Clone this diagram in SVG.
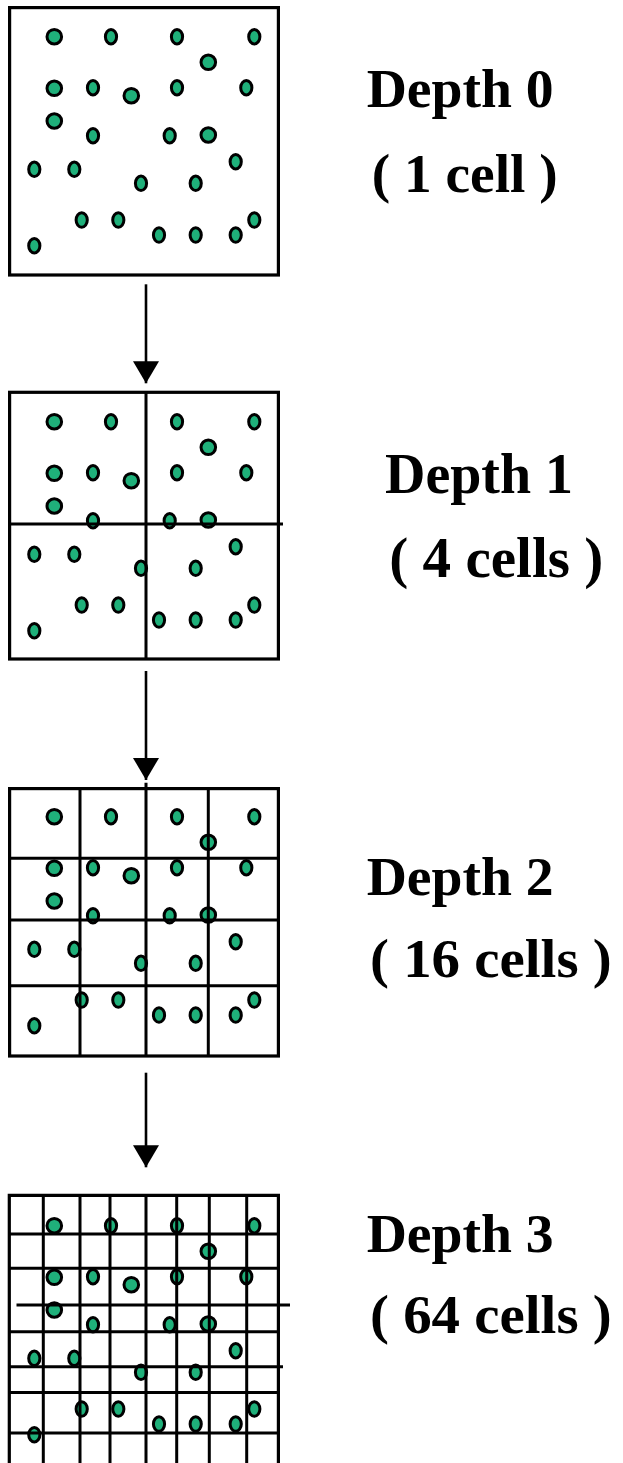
<svg xmlns="http://www.w3.org/2000/svg" xmlns:xlink="http://www.w3.org/1999/xlink" width="623" height="1463" viewBox="0 0 623 1463">
<style>
.c{fill:#1fb07a;stroke:#000;stroke-width:3}
.g{fill:none;stroke:#000;stroke-width:3}
.b{fill:none;stroke:#000;stroke-width:3.2}
.t{font-family:"Liberation Serif","Times New Roman",serif;font-weight:bold;font-size:54px;fill:#000}
.a{stroke:#000;stroke-width:2.6;fill:none}
</style>
<defs>
<marker id="ah" markerUnits="userSpaceOnUse" markerWidth="22" markerHeight="26" viewBox="0 0 22 26" refX="22" refY="13" orient="auto">
<path d="M0,0 L22,13 L0,26 Z" fill="#000"/>
</marker>
<g id="dots">
<circle class="c" cx="54.3" cy="36.7" r="7.3"/>
<ellipse class="c" cx="111" cy="36.7" rx="5.6" ry="7.2"/>
<ellipse class="c" cx="177" cy="36.7" rx="5.6" ry="7.2"/>
<ellipse class="c" cx="254.3" cy="36.7" rx="5.6" ry="7.2"/>
<circle class="c" cx="208.3" cy="62.3" r="7.3"/>
<circle class="c" cx="54.3" cy="88.3" r="7.3"/>
<ellipse class="c" cx="93" cy="87.7" rx="5.6" ry="7.2"/>
<circle class="c" cx="131.3" cy="95.7" r="7.3"/>
<ellipse class="c" cx="177" cy="87.7" rx="5.6" ry="7.2"/>
<ellipse class="c" cx="246.3" cy="87.7" rx="5.6" ry="7.2"/>
<circle class="c" cx="54.3" cy="121" r="7.3"/>
<ellipse class="c" cx="93" cy="135.7" rx="5.6" ry="7.2"/>
<ellipse class="c" cx="169.7" cy="135.7" rx="5.6" ry="7.2"/>
<circle class="c" cx="208.3" cy="135" r="7.3"/>
<ellipse class="c" cx="235.7" cy="161.7" rx="5.6" ry="7.2"/>
<ellipse class="c" cx="34.3" cy="169.3" rx="5.6" ry="7.2"/>
<ellipse class="c" cx="74.3" cy="169.3" rx="5.6" ry="7.2"/>
<ellipse class="c" cx="141" cy="183.3" rx="5.6" ry="7.2"/>
<ellipse class="c" cx="195.7" cy="183.3" rx="5.6" ry="7.2"/>
<ellipse class="c" cx="81.7" cy="220" rx="5.6" ry="7.2"/>
<ellipse class="c" cx="118.3" cy="220" rx="5.6" ry="7.2"/>
<ellipse class="c" cx="254.3" cy="220" rx="5.6" ry="7.2"/>
<ellipse class="c" cx="159" cy="235" rx="5.6" ry="7.2"/>
<ellipse class="c" cx="195.7" cy="235" rx="5.6" ry="7.2"/>
<ellipse class="c" cx="235.7" cy="235" rx="5.6" ry="7.2"/>
<ellipse class="c" cx="34.3" cy="245.7" rx="5.6" ry="7.2"/>
</g>
</defs>
<rect width="623" height="1463" fill="#fff"/>

<g id="depth0">
<use xlink:href="#dots"/>
<rect class="b" x="9.6" y="7.6" width="268.8" height="267.4"/>
<text class="t" x="366.7" y="106.7" textLength="187" lengthAdjust="spacingAndGlyphs">Depth 0</text>
<text class="t" x="371.7" y="191.7" textLength="186" lengthAdjust="spacingAndGlyphs">( 1 cell )</text>
</g>

<g id="depth1">
<use xlink:href="#dots" transform="translate(0,385)"/>
<rect class="b" x="9.6" y="392.3" width="268.8" height="266.7"/>
<line class="g" x1="146" y1="392" x2="146" y2="659"/>
<line class="g" x1="9.6" y1="524" x2="283" y2="524"/>
<text class="t" x="385" y="493.3" textLength="188" lengthAdjust="spacingAndGlyphs" style="font-size:56px">Depth 1</text>
<text class="t" x="389.3" y="576.7" textLength="214" lengthAdjust="spacingAndGlyphs" style="font-size:56px">( 4 cells )</text>
</g>

<g id="depth2">
<use xlink:href="#dots" transform="translate(0,780)"/>
<rect class="b" x="9.6" y="788.6" width="268.8" height="267.4"/>
<line class="g" x1="80" y1="788.6" x2="80" y2="1056"/>
<line class="g" x1="146" y1="782.7" x2="146" y2="1056"/>
<line class="g" x1="208.3" y1="788.6" x2="208.3" y2="1056"/>
<line class="g" x1="9.6" y1="858.3" x2="278.4" y2="858.3"/>
<line class="g" x1="9.6" y1="920" x2="278.4" y2="920"/>
<line class="g" x1="9.6" y1="985.7" x2="278.4" y2="985.7"/>
<text class="t" x="366.7" y="895" textLength="187" lengthAdjust="spacingAndGlyphs">Depth 2</text>
<text class="t" x="370" y="976.7" textLength="241.7" lengthAdjust="spacingAndGlyphs">( 16 cells )</text>
</g>

<g id="depth3">
<use xlink:href="#dots" transform="translate(0,1189)"/>
<path class="b" d="M9.3,1463 V1195.3 H278.4 V1463"/>
<line class="g" x1="43.3" y1="1195" x2="43.3" y2="1463"/>
<line class="g" x1="80" y1="1195" x2="80" y2="1463"/>
<line class="g" x1="110" y1="1195" x2="110" y2="1463"/>
<line class="g" x1="146" y1="1195" x2="146" y2="1463"/>
<line class="g" x1="176.7" y1="1195" x2="176.7" y2="1463"/>
<line class="g" x1="209.3" y1="1195" x2="209.3" y2="1463"/>
<line class="g" x1="246.7" y1="1195" x2="246.7" y2="1463"/>
<line class="g" x1="9.3" y1="1234" x2="278.4" y2="1234"/>
<line class="g" x1="9.3" y1="1268.3" x2="278.4" y2="1268.3"/>
<line class="g" x1="16.5" y1="1305" x2="290" y2="1305"/>
<line class="g" x1="9.3" y1="1331.7" x2="278.4" y2="1331.7"/>
<line class="g" x1="9.3" y1="1366.7" x2="283" y2="1366.7"/>
<line class="g" x1="9.3" y1="1392.5" x2="278.4" y2="1392.5"/>
<line class="g" x1="9.3" y1="1433" x2="278.4" y2="1433"/>
<text class="t" x="366.7" y="1251.7" textLength="187" lengthAdjust="spacingAndGlyphs">Depth 3</text>
<text class="t" x="370" y="1332.7" textLength="241.7" lengthAdjust="spacingAndGlyphs">( 64 cells )</text>
</g>

<g id="connectors">
<line class="a" x1="146" y1="284.3" x2="146" y2="383.3" marker-end="url(#ah)"/>
<line class="a" x1="146" y1="671" x2="146" y2="780" marker-end="url(#ah)"/>
<line class="a" x1="146" y1="1072.7" x2="146" y2="1167.3" marker-end="url(#ah)"/>
</g>
</svg>
